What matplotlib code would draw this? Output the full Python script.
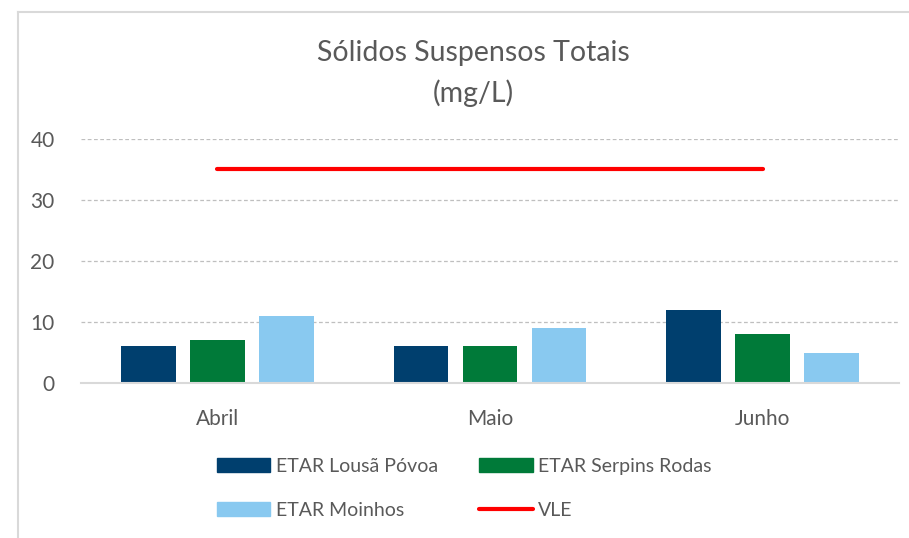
import matplotlib
matplotlib.use("Agg")
import matplotlib.pyplot as plt
import numpy as np
from matplotlib.patches import Patch
from matplotlib.lines import Line2D

categories = ["Abril", "Maio", "Junho"]
series_names = ["ETAR Lousã Póvoa", "ETAR Serpins Rodas", "ETAR Moinhos"]
lousa = [6, 6, 12]
serpins = [7, 6, 8]
moinhos = [11, 9, 5]
vle = [35, 35, 35]
yticks = [0, 10, 20, 30, 40]

colors = ["#003F6E", "#007A39", "#89C9F0"]
vle_color = "#FF0000"
text_color = "#595959"

plt.rcParams['font.family'] = ['Lato', 'DejaVu Sans']

W, H = 909, 538
fig = plt.figure(figsize=(W / 100, H / 100), dpi=100)

# outer frame
fig.add_artist(Line2D([17.5 / W, 17.5 / W], [0, 1 - 11.5 / H], transform=fig.transFigure, color="#D9D9D9", lw=1.5))
fig.add_artist(Line2D([17.5 / W, 1], [1 - 11.5 / H, 1 - 11.5 / H], transform=fig.transFigure, color="#D9D9D9", lw=1.5))

ax = fig.add_axes([81 / W, 1 - 383 / H, 818 / W, 244 / H])
x = np.arange(len(categories))
step = 0.253
width = 0.2
for i, (vals, name) in enumerate(zip([lousa, serpins, moinhos], series_names)):
    ax.bar(x + (i - 1) * step, vals, width, color=colors[i], label=name, zorder=3)
ax.plot(x, vle, color=vle_color, lw=3, solid_capstyle='round', label="VLE", zorder=4)

ax.set_xlim(-0.5, 2.5)
ax.set_ylim(0, 40)
ax.set_yticks(yticks)
ax.set_xticks(x)
ax.set_xticklabels(categories)
ax.tick_params(axis='both', length=0, labelsize=15, colors=text_color)
ax.tick_params(axis='y', pad=19)
ax.tick_params(axis='x', pad=19)
ax.grid(axis='y', color="#BFBFBF", linestyle=(0, (3, 2)), lw=0.9, zorder=0)
for s in ["left", "right", "top"]:
    ax.spines[s].set_visible(False)
ax.spines["bottom"].set_color("#D9D9D9")
ax.spines["bottom"].set_linewidth(1.5)
ax.spines["bottom"].set_zorder(5)

fig.text(473 / W, 1 - 53 / H, "Sólidos Suspensos Totais", ha='center', va='center', fontsize=20.5, color=text_color)
fig.text(473 / W, 1 - 93 / H, "(mg/L)", ha='center', va='center', fontsize=20.5, color=text_color)

handles = [Patch(color=colors[0]), Patch(color=colors[1]), Patch(color=colors[2]),
           Line2D([0], [0], color=vle_color, lw=3, solid_capstyle='round')]
labels = [series_names[0], series_names[1], series_names[2], "VLE"]
# column-major for ncol=2: col1 = Lousã, Moinhos; col2 = Serpins, VLE
order = [0, 2, 1, 3]
leg = fig.legend([handles[i] for i in order], [labels[i] for i in order], ncol=2,
                 loc='upper left', bbox_to_anchor=(211 / W, 1 - 452 / H),
                 frameon=False, fontsize=14, handlelength=2.75, handleheight=0.7,
                 handletextpad=0.3, columnspacing=2.1, labelspacing=1.38,
                 borderaxespad=0, borderpad=0.3)
for t in leg.get_texts():
    t.set_color(text_color)

fig.savefig("out.png", dpi=100)
